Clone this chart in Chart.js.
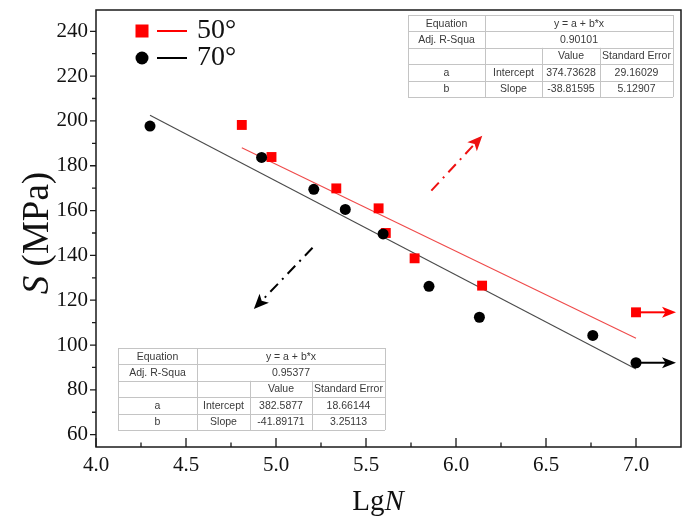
<!DOCTYPE html>
<html>
<head>
<meta charset="utf-8">
<script src="https://cdn.jsdelivr.net/npm/chart.js@4.4.1/dist/chart.umd.min.js"></script>
<style>
	html, body { margin: 0; padding: 0; background: #fff; }
	#wrap { width: 688px; height: 519px; position: relative; }
</style>
</head>
<body>
<div id="wrap"><canvas id="chart"></canvas></div>
<script>
// measured points, 50 deg and 70 deg
const lg50 = [4.81, 4.975, 5.335, 5.57, 5.61, 5.77, 6.145, 7.0];
const s50 = [198.2, 183.9, 169.9, 161.0, 150.0, 138.7, 126.5, 114.6];
const lg70 = [4.30, 4.92, 5.21, 5.385, 5.595, 5.85, 6.13, 6.76, 7.0];
const s70 = [197.7, 183.7, 169.5, 160.5, 149.6, 126.2, 112.4, 104.3, 92.1];

// fitted lines, end points
const fitLg50 = [4.81, 7.0];
const fitS50 = [188.0, 103.0];
const fitLg70 = [4.30, 7.0];
const fitS70 = [202.5, 89.3];

// runouts (no failure) marked with an arrow
const runoutLg = 7.0;

const xTicks = [4.0, 4.5, 5.0, 5.5, 6.0, 6.5, 7.0];
const yTicks = [60, 80, 100, 120, 140, 160, 180, 200, 220, 240];

// fit tables
const table50 = [
	['Equation', 'y = a + b*x'],
	['Adj. R-Squa', '0.90101'],
	['', '', 'Value', 'Standard Error'],
	['a', 'Intercept', '374.73628', '29.16029'],
	['b', 'Slope', '-38.81595', '5.12907']
];
const table70 = [
	['Equation', 'y = a + b*x'],
	['Adj. R-Squa', '0.95377'],
	['', '', 'Value', 'Standard Error'],
	['a', 'Intercept', '382.5877', '18.66144'],
	['b', 'Slope', '-41.89171', '3.25113']
];

const SERIF = '"Liberation Serif", "DejaVu Serif", serif';
const SANS = '"Liberation Sans", Arial, sans-serif';

function pts(xs, ys) {
	return xs.map((x, i) => ({ x, y: ys[i] }));
}

function arrowHead(ctx, x, y, angle, len, half) {
	ctx.save();
	ctx.translate(x, y);
	ctx.rotate(angle);
	ctx.beginPath();
	ctx.moveTo(0, 0);
	ctx.lineTo(-len, -half);
	ctx.lineTo(-len * 0.75, 0);
	ctx.lineTo(-len, half);
	ctx.closePath();
	ctx.fill();
	ctx.restore();
}

function drawTable(ctx, x0, y0, cols, rowH, rows) {
	const width = cols.reduce((a, b) => a + b, 0);
	const xs = [x0];
	cols.forEach(c => xs.push(xs[xs.length - 1] + c));
	ctx.save();
	ctx.fillStyle = '#fff';
	ctx.fillRect(x0, y0, width, rowH * rows.length);
	ctx.strokeStyle = '#c4c4c4';
	ctx.lineWidth = 1;
	// horizontal lines
	for (let r = 0; r <= rows.length; r++) {
		const y = Math.round(y0 + r * rowH) + 0.5;
		ctx.beginPath();
		ctx.moveTo(x0, y);
		ctx.lineTo(x0 + width, y);
		ctx.stroke();
	}
	// vertical lines
	for (let c = 0; c < xs.length; c++) {
		const x = Math.round(xs[c]) + 0.5;
		const merged = c === 2 || c === 3;
		ctx.beginPath();
		ctx.moveTo(x, merged ? y0 + rowH * 2 : y0);
		ctx.lineTo(x, y0 + rowH * rows.length);
		ctx.stroke();
	}
	ctx.fillStyle = '#3a3a3a';
	ctx.font = '10.5px ' + SANS;
	ctx.textAlign = 'center';
	ctx.textBaseline = 'middle';
	rows.forEach((row, r) => {
		const cy = y0 + rowH * (r + 0.5) + 0.5;
		if (row.length === 2) {
			ctx.fillText(row[0], (xs[0] + xs[1]) / 2, cy);
			ctx.fillText(row[1], (xs[1] + xs[4]) / 2, cy);
		} else {
			row.forEach((t, c) => ctx.fillText(t, (xs[c] + xs[c + 1]) / 2, cy));
		}
	});
	ctx.restore();
}

const decor = {
	id: 'decor',
	afterDatasetsDraw(chart) {
		const { ctx, chartArea: a, scales: { x, y } } = chart;
		ctx.save();

		// frame
		ctx.strokeStyle = '#1a1a1a';
		ctx.lineWidth = 1.5;
		ctx.strokeRect(a.left, a.top, a.right - a.left, a.bottom - a.top);

		// x ticks point inwards, y ticks outwards
		ctx.lineWidth = 1.3;
		ctx.beginPath();
		xTicks.forEach((v, i) => {
			const px = x.getPixelForValue(v);
			ctx.moveTo(px, a.bottom);
			ctx.lineTo(px, a.bottom - 9);
			if (i < xTicks.length - 1) {
				const pm = x.getPixelForValue((v + xTicks[i + 1]) / 2);
				ctx.moveTo(pm, a.bottom);
				ctx.lineTo(pm, a.bottom - 4.5);
			}
		});
		yTicks.forEach((v, i) => {
			const py = y.getPixelForValue(v);
			ctx.moveTo(a.left, py);
			ctx.lineTo(a.left - 6, py);
			if (i < yTicks.length - 1) {
				const pm = y.getPixelForValue((v + yTicks[i + 1]) / 2);
				ctx.moveTo(a.left, pm);
				ctx.lineTo(a.left - 4, pm);
			}
		});
		ctx.stroke();

		// runout arrows
		[[chart.getDatasetMeta(1), '#ff0000'], [chart.getDatasetMeta(0), '#000']].forEach(([meta, col]) => {
			meta.data.forEach((el, i) => {
				if (meta.controller.getDataset().data[i].x < runoutLg) return;
				ctx.strokeStyle = col;
				ctx.fillStyle = col;
				ctx.lineWidth = 2;
				ctx.beginPath();
				ctx.moveTo(el.x, el.y);
				ctx.lineTo(el.x + 30, el.y);
				ctx.stroke();
				arrowHead(ctx, el.x + 40, el.y, 0, 14, 5.5);
			});
		});

		// dash-dot pointers to the tables
		const pointers = [
			{ from: [5.863, 168.9], to: [6.146, 193.4], color: '#ee1111' },
			{ from: [5.203, 143.4], to: [4.877, 116.1], color: '#000' }
		];
		pointers.forEach(p => {
			const x1 = x.getPixelForValue(p.from[0]);
			const y1 = y.getPixelForValue(p.from[1]);
			const x2 = x.getPixelForValue(p.to[0]);
			const y2 = y.getPixelForValue(p.to[1]);
			const ang = Math.atan2(y2 - y1, x2 - x1);
			ctx.strokeStyle = p.color;
			ctx.fillStyle = p.color;
			ctx.lineWidth = 2;
			ctx.setLineDash([11, 6, 2, 6]);
			ctx.beginPath();
			ctx.moveTo(x1, y1);
			ctx.lineTo(x2 - Math.cos(ang) * 10, y2 - Math.sin(ang) * 10);
			ctx.stroke();
			ctx.setLineDash([]);
			arrowHead(ctx, x2, y2, ang, 15, 6.5);
		});

		// tables
		drawTable(ctx, 408, 15, [77, 57, 58, 73], 16.4, table50);
		drawTable(ctx, 118, 348, [79, 53, 62, 73], 16.4, table70);

		// legend
		ctx.fillStyle = '#ff0000';
		ctx.fillRect(135.5, 24.5, 13, 13);
		ctx.strokeStyle = '#ff0000';
		ctx.lineWidth = 2;
		ctx.beginPath();
		ctx.moveTo(157, 31);
		ctx.lineTo(187, 31);
		ctx.stroke();
		ctx.fillStyle = '#000';
		ctx.beginPath();
		ctx.arc(142, 58, 6.5, 0, Math.PI * 2);
		ctx.fill();
		ctx.strokeStyle = '#000';
		ctx.beginPath();
		ctx.moveTo(157, 58);
		ctx.lineTo(187, 58);
		ctx.stroke();
		ctx.font = '28px ' + SERIF;
		ctx.textAlign = 'left';
		ctx.textBaseline = 'middle';
		ctx.fillStyle = '#111';
		ctx.fillText('50°', 197, 31);
		ctx.fillText('70°', 197, 58);

		// axis titles, with italic variable names
		ctx.fillStyle = '#111';
		ctx.textBaseline = 'alphabetic';
		ctx.font = '29px ' + SERIF;
		const lg = ctx.measureText('Lg').width;
		ctx.font = 'italic 29px ' + SERIF;
		const nW = ctx.measureText('N').width;
		let sx = 378 - (lg + nW) / 2;
		ctx.font = '29px ' + SERIF;
		ctx.fillText('Lg', sx, 510);
		ctx.font = 'italic 29px ' + SERIF;
		ctx.fillText('N', sx + lg, 510);

		ctx.save();
		ctx.translate(48, 233);
		ctx.rotate(-Math.PI / 2);
		ctx.font = 'italic 37px ' + SERIF;
		const sW = ctx.measureText('S').width;
		ctx.font = '37px ' + SERIF;
		const restW = ctx.measureText(' (MPa)').width;
		const start = -(sW + restW) / 2;
		ctx.font = 'italic 37px ' + SERIF;
		ctx.fillText('S', start, 0);
		ctx.font = '37px ' + SERIF;
		ctx.fillText(' (MPa)', start + sW, 0);
		ctx.restore();

		ctx.restore();
	}
};

function noPad(s) {
	s.paddingTop = 0;
	s.paddingBottom = 0;
	s.paddingLeft = 0;
	s.paddingRight = 0;
}

function main() {
	const data = {
		datasets: [
			{
				label: '70°',
				data: pts(lg70, s70),
				pointStyle: 'circle',
				pointRadius: 5.5,
				pointHoverRadius: 5.5,
				backgroundColor: '#000',
				borderColor: '#000',
				borderWidth: 0,
				showLine: false
			},
			{
				label: '50°',
				data: pts(lg50, s50),
				pointStyle: 'rect',
				pointRadius: 7,
				pointHoverRadius: 7,
				backgroundColor: '#ff0000',
				borderColor: '#ff0000',
				borderWidth: 0,
				showLine: false
			},
			{
				label: 'fit 50°',
				data: pts(fitLg50, fitS50),
				showLine: true,
				pointRadius: 0,
				borderColor: '#ef4a4a',
				borderWidth: 1.1
			},
			{
				label: 'fit 70°',
				data: pts(fitLg70, fitS70),
				showLine: true,
				pointRadius: 0,
				borderColor: '#4a4a4a',
				borderWidth: 1.1
			}
		]
	};

	const tickFont = { family: SERIF, size: 21 };

	new Chart(document.getElementById('chart'), {
		type: 'scatter',
		data,
		options: {
			responsive: true,
			maintainAspectRatio: false,
			animation: false,
			events: [],
			layout: { padding: { top: 10, right: 6, left: 0, bottom: 0 } },
			plugins: { legend: { display: false }, tooltip: { enabled: false } },
			scales: {
				x: {
					type: 'linear',
					min: 4.0,
					max: 7.25,
					afterBuildTicks: s => { s.ticks = xTicks.map(v => ({ value: v })); },
					afterFit: s => { s.height = 72; noPad(s); },
					grid: { display: false, drawTicks: false },
					border: { display: false },
					ticks: { font: tickFont, color: '#111', padding: 6, maxRotation: 0, callback: v => v.toFixed(1) }
				},
				y: {
					type: 'linear',
					min: 54.5,
					max: 249.5,
					afterBuildTicks: s => { s.ticks = yTicks.map(v => ({ value: v })); },
					afterFit: s => { s.width = 96; noPad(s); },
					grid: { display: false, drawTicks: false },
					border: { display: false },
					ticks: { font: tickFont, color: '#111', padding: 8 }
				}
			}
		},
		plugins: [decor]
	});
}

document.addEventListener('DOMContentLoaded', main);
</script>
</body>
</html>
